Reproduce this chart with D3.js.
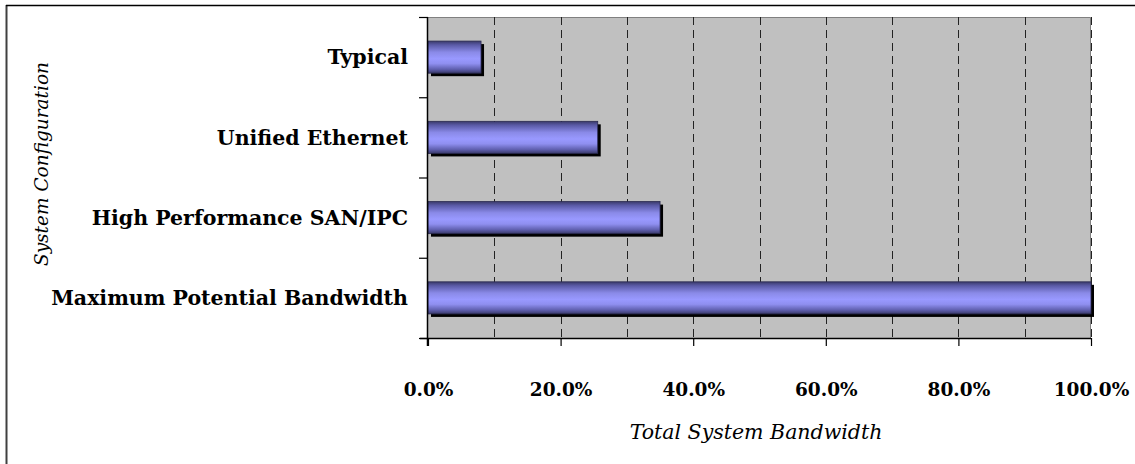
<!DOCTYPE html>
<html><head><meta charset="utf-8">
<script src="https://cdn.jsdelivr.net/npm/d3@7"></script>
<style>
html,body{margin:0;padding:0;background:#fff;}
svg{display:block;}
text{font-family:"DejaVu Serif","Liberation Serif",serif;}
</style></head>
<body>
<svg id="chart" width="1135" height="464"></svg>
<script>
const categories = ["Typical", "Unified Ethernet", "High Performance SAN/IPC", "Maximum Potential Bandwidth"];
const values = [8.0, 25.6, 35.0, 100.0];
const xTicks = [0, 20, 40, 60, 80, 100];
const gridValues = [10, 20, 30, 40, 50, 60, 70, 80, 90, 100];
const xTitle = "Total System Bandwidth";
const yTitle = "System Configuration";

const svg = d3.select("#chart");
const m = {left: 428, right: 1091, top: 17, bottom: 338};

// outer frame (left + top visible)
svg.append("line").attr("x1", 6.5).attr("x2", 6.5).attr("y1", 5).attr("y2", 464)
  .attr("stroke", "#404040").attr("stroke-width", 2);
svg.append("line").attr("x1", 6).attr("x2", 1135).attr("y1", 5.5).attr("y2", 5.5)
  .attr("stroke", "#000").attr("stroke-width", 1.5);

const x = d3.scaleLinear().domain([0, 100]).range([m.left, m.right]);
const y = d3.scaleBand().domain(categories).range([m.top, m.bottom]).paddingInner(0.6).paddingOuter(0.3);
const yb = d3.scaleBand().domain(categories).range([m.top, m.bottom]);

// plot background
svg.append("rect").attr("x", m.left).attr("y", m.top)
  .attr("width", m.right - m.left).attr("height", m.bottom - m.top)
  .attr("fill", "#c0c0c0");
svg.append("path")
  .attr("d", `M${m.left},${m.top + 0.5}H${m.right - 0.5}V${m.bottom}`)
  .attr("fill", "none").attr("stroke", "#808080").attr("stroke-width", 1);

// gridlines
svg.append("g").selectAll("line").data(gridValues).join("line")
  .attr("x1", d => Math.round(x(d)) + 0.5).attr("x2", d => Math.round(x(d)) + 0.5)
  .attr("y1", m.top).attr("y2", m.bottom)
  .attr("stroke", "#222").attr("stroke-width", 1).attr("stroke-dasharray", "8,5");

// gradient
const defs = svg.append("defs");
const grad = defs.append("linearGradient").attr("id", "barGrad")
  .attr("x1", 0).attr("x2", 0).attr("y1", 0).attr("y2", 1);
[[0, "#3a3a6a"], [0.12, "#5a5aa6"], [0.35, "#8a8ae8"], [0.55, "#9999ff"], [0.7, "#8f8ff0"], [0.88, "#5f5fae"], [1, "#3a3a6a"]]
  .forEach(([o, c]) => grad.append("stop").attr("offset", o).attr("stop-color", c));

const bars = svg.append("g");
// shadows
bars.selectAll("rect.sh").data(categories).join("rect").attr("class", "sh")
  .attr("x", x(0) + 3).attr("y", d => y(d) + 3)
  .attr("width", (d, i) => x(values[i]) - x(0)).attr("height", y.bandwidth())
  .attr("fill", "#000");
bars.selectAll("rect.bar").data(categories).join("rect").attr("class", "bar")
  .attr("x", x(0)).attr("y", d => y(d))
  .attr("width", (d, i) => x(values[i]) - x(0)).attr("height", y.bandwidth())
  .attr("fill", "url(#barGrad)").attr("stroke", "#2a2a50").attr("stroke-width", 0.8);

// x axis
const xAxis = d3.axisBottom(x).tickValues(xTicks).tickSize(8).tickPadding(37)
  .tickFormat(d => d3.format(".1f")(d) + "%");
const gx = svg.append("g").attr("transform", `translate(0,${m.bottom})`).call(xAxis);
gx.select(".domain").attr("stroke", "#000").attr("stroke-width", 1.5).attr("d", `M${m.left - 8},0.5H${m.right}`);
gx.selectAll(".tick line").attr("stroke", "#000").attr("stroke-width", 1.2);
gx.selectAll("text").attr("font-size", 18.5).attr("font-weight", "bold").attr("fill", "#000")
  .attr("font-family", "DejaVu Serif, serif");

// y axis: ticks at band boundaries
const bounds = categories.map(c => yb(c)).concat([m.bottom]);
svg.append("line").attr("x1", m.left - 0.5).attr("x2", m.left - 0.5).attr("y1", m.top).attr("y2", m.bottom + 8)
  .attr("stroke", "#000").attr("stroke-width", 1.5);
svg.append("g").selectAll("line").data(bounds).join("line")
  .attr("x1", m.left - 9).attr("x2", m.left).attr("y1", d => d + 0.5).attr("y2", d => d + 0.5)
  .attr("stroke", "#000").attr("stroke-width", 1.2);
svg.append("g").selectAll("text").data(categories).join("text")
  .attr("x", 408).attr("y", d => yb(d) + yb.bandwidth() / 2)
  .attr("dy", "0.35em").attr("text-anchor", "end")
  .attr("font-size", 20.5).attr("font-weight", "bold").attr("fill", "#000")
  .text(d => d);

// titles
svg.append("text").attr("x", 756).attr("y", 439).attr("text-anchor", "middle")
  .attr("font-size", 20.5).attr("font-style", "italic").text(xTitle);
svg.append("text").attr("transform", "translate(48,164) rotate(-90)").attr("text-anchor", "middle")
  .attr("font-size", 18.5).attr("font-style", "italic").text(yTitle);
</script>
</body></html>
